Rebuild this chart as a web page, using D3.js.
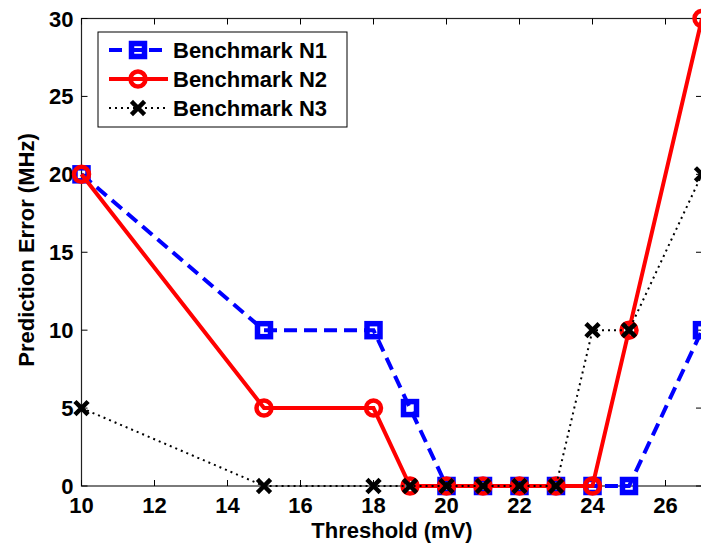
<!DOCTYPE html>
<html>
<head>
<meta charset="utf-8">
<script src="https://cdn.jsdelivr.net/npm/d3@7"></script>
<style>
  body { margin: 0; background: #fff; }
  text { font-family: "Liberation Sans", Arial, sans-serif; font-weight: bold; }
</style>
</head>
<body>
<svg id="chart" width="701" height="548"></svg>
<script>
// threshold values (mV)
const thresholds = [10, 15, 18, 19, 20, 21, 22, 23, 24, 25, 27];
const n1 = [20, 10, 10, 5, 0, 0, 0, 0, 0, 0, 10];
const n2 = [20, 5, 5, 0, 0, 0, 0, 0, 0, 10, 30];
const n3 = [5, 0, 0, 0, 0, 0, 0, 0, 10, 10, 20];
const xTicks = [10, 12, 14, 16, 18, 20, 22, 24, 26];
const yTicks = [0, 5, 10, 15, 20, 25, 30];
const seriesNames = ['Benchmark N1', 'Benchmark N2', 'Benchmark N3'];

const svg = d3.select('#chart');
const H = 548;

const x = d3.scaleLinear().domain([10, 27]).range([81.5, 702]);
const y = d3.scaleLinear().domain([0, 30]).range([486, 18.5]);

const styles = [
  { color: '#0000ff', width: 4, dash: '13,7', marker: 'square' },
  { color: '#ff0000', width: 4, dash: null, marker: 'circle' },
  { color: '#000000', width: 2, dash: '2,4', marker: 'cross' }
];

// frame
const x0 = x(10), x1 = x(27), y0 = y(0), y1 = y(30);
svg.append('rect')
  .attr('x', x0).attr('y', y1)
  .attr('width', x1 - x0).attr('height', y0 - y1)
  .attr('fill', 'none').attr('stroke', '#222').attr('stroke-width', 1.2);

// ticks (inward, both sides)
const tickLen = 6;
xTicks.forEach(t => {
  svg.append('line').attr('x1', x(t)).attr('x2', x(t)).attr('y1', y0).attr('y2', y0 - tickLen).attr('stroke', '#000');
  svg.append('line').attr('x1', x(t)).attr('x2', x(t)).attr('y1', y1).attr('y2', y1 + tickLen).attr('stroke', '#000');
  svg.append('text').attr('x', x(t)).attr('y', y0 + 27).attr('text-anchor', 'middle')
    .attr('font-size', 22).text(t);
});
yTicks.forEach(t => {
  svg.append('line').attr('x1', x0).attr('x2', x0 + tickLen).attr('y1', y(t)).attr('y2', y(t)).attr('stroke', '#000');
  svg.append('line').attr('x1', x1).attr('x2', x1 - tickLen).attr('y1', y(t)).attr('y2', y(t)).attr('stroke', '#000');
  svg.append('text').attr('x', x0 - 8).attr('y', y(t) + 8).attr('text-anchor', 'end')
    .attr('font-size', 22).text(t);
});

svg.append('text').attr('x', 392).attr('y', 538).attr('text-anchor', 'middle')
  .attr('font-size', 22).text('Threshold (mV)');
svg.append('text').attr('transform', `translate(34,250) rotate(-90)`)
  .attr('text-anchor', 'middle').attr('font-size', 22).text('Prediction Error (MHz)');

function drawMarker(g, kind, cx, cy, color) {
  if (kind === 'square') {
    g.append('rect').attr('x', cx - 6.5).attr('y', cy - 6.5).attr('width', 13).attr('height', 13)
      .attr('fill', 'none').attr('stroke', color).attr('stroke-width', 5.5);
  } else if (kind === 'circle') {
    g.append('circle').attr('cx', cx).attr('cy', cy).attr('r', 7.5)
      .attr('fill', 'none').attr('stroke', color).attr('stroke-width', 4.5);
  } else {
    const s = 5;
    g.append('path').attr('d', `M${cx - s},${cy - s}L${cx + s},${cy + s}M${cx - s},${cy + s}L${cx + s},${cy - s}`)
      .attr('stroke', color).attr('stroke-width', 4.5).attr('stroke-linecap', 'square');
  }
}

const plot = svg.append('g');
const line = d3.line().x(d => x(d[0])).y(d => y(d[1]));
[n1, n2, n3].forEach((vals, i) => {
  const st = styles[i];
  const pts = thresholds.map((t, j) => [t, vals[j]]);
  const g = plot.append('g');
  g.append('path').datum(pts).attr('d', line)
    .attr('fill', 'none').attr('stroke', st.color).attr('stroke-width', st.width)
    .attr('stroke-dasharray', st.dash);
  pts.forEach(p => drawMarker(g, st.marker, x(p[0]), y(p[1]), st.color));
});

// legend
const lg = svg.append('g');
lg.append('rect').attr('x', 98).attr('y', 32).attr('width', 249).attr('height', 95)
  .attr('fill', '#fff').attr('stroke', '#000').attr('stroke-width', 1);
seriesNames.forEach((name, i) => {
  const st = styles[i];
  const ly = 50 + i * 29;
  lg.append('line').attr('x1', 109).attr('x2', 168).attr('y1', ly).attr('y2', ly)
    .attr('stroke', st.color).attr('stroke-width', st.width).attr('stroke-dasharray', st.dash);
  drawMarker(lg, st.marker, 138, ly, st.color);
  lg.append('text').attr('x', 173).attr('y', ly + 8).attr('font-size', 22).text(name);
});
</script>
</body>
</html>
